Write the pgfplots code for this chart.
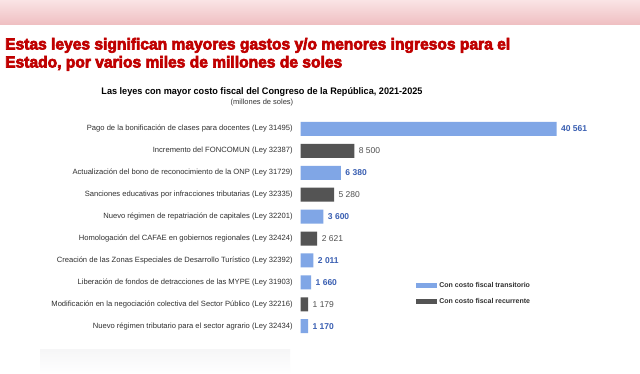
\documentclass[border=0pt]{standalone}
\usepackage{pgfplots}
\pgfplotsset{compat=1.18}
\usepackage{pgfplotstable}
\usepackage{graphicx}
\usepackage{fontspec}
\setmainfont{Liberation Sans}
\newfontfamily\heavyfont[FakeBold=4]{Liberation Sans Bold}
\definecolor{titlered}{HTML}{C00000}
\definecolor{barblue}{HTML}{80A6E6}
\definecolor{bargray}{HTML}{545454}
\definecolor{valblue}{HTML}{3A5FB2}
\definecolor{valgray}{HTML}{505050}
\definecolor{labgray}{HTML}{303030}

\pgfplotstableread{
idx val
0 40561
2 6380
4 3600
6 2011
7 1660
9 1170
}\transitorio
\pgfplotstableread{
idx val
1 8500
3 5280
5 2621
8 1179
}\recurrente

\begin{document}
\begin{tikzpicture}
\useasboundingbox (0pt,0pt) rectangle (640pt,374pt);
\fill[white] (0pt,0pt) rectangle (640pt,374pt);
\shade[top color={rgb,255:red,250;green,228;blue,229}, bottom color={rgb,255:red,239;green,190;blue,193}] (0pt,374pt) rectangle (640pt,349pt);
\shade[bottom color=white, top color={rgb,255:red,246;green,246;blue,247}] (40pt,0pt) rectangle (290pt,24pt);

\node[anchor=base west, inner sep=0, text=titlered] at (5pt,324.5pt)
  {\resizebox{505pt}{\height}{\heavyfont\fontsize{16}{18}\selectfont Estas leyes significan mayores gastos y/o menores ingresos para el}};
\node[anchor=base west, inner sep=0, text=titlered] at (5pt,306.5pt)
  {\resizebox{337pt}{\height}{\heavyfont\fontsize{16}{18}\selectfont Estado, por varios miles de millones de soles}};

\node[anchor=base, inner sep=0, text=black] at (262pt,279.5pt)
  {\resizebox{321pt}{\height}{\bfseries\fontsize{9.5}{11}\selectfont Las leyes con mayor costo fiscal del Congreso de la República, 2021-2025}};
\node[anchor=base, inner sep=0, text=black!80] at (262pt,269pt)
  {\fontsize{7.5}{9}\selectfont (millones de soles)};

\begin{axis}[
  at={(300.7pt,256pt)}, anchor=north west,
  scale only axis, width=315.5pt, height=219.2pt,
  xmin=0, xmax=50000, ymin=-0.5, ymax=9.5, y dir=reverse,
  enlargelimits=false, clip=false,
  xbar, bar width=14pt, bar shift=0pt,
  axis line style={draw=none},
  xtick=\empty,
  ytick={0,...,9},
  major tick length=0pt,
  yticklabels={
    {Pago de la bonificación de clases para docentes (Ley 31495)},
    {Incremento del FONCOMUN (Ley 32387)},
    {Actualización del bono de reconocimiento de la ONP (Ley 31729)},
    {Sanciones educativas por infracciones tributarias (Ley 32335)},
    {Nuevo régimen de repatriación de capitales (Ley 32201)},
    {Homologación del CAFAE en gobiernos regionales (Ley 32424)},
    {Creación de las Zonas Especiales de Desarrollo Turístico (Ley 32392)},
    {Liberación de fondos de detracciones de las MYPE (Ley 31903)},
    {Modificación en la negociación colectiva del Sector Público (Ley 32216)},
    {Nuevo régimen tributario para el sector agrario (Ley 32434)}},
  yticklabel style={font=\fontsize{7.6}{9}\selectfont, text=labgray, xshift=-4.5pt},
  point meta=x,
  nodes near coords,
  /pgf/number format/.cd, fixed, precision=0, 1000 sep={\ }, assume math mode=true,
  /pgfplots/.cd,
  every node near coord/.append style={anchor=west, xshift=1pt, font=\fontsize{8.5}{10}\selectfont},
  legend style={at={(axis cs:18225,6.88)}, anchor=north west, draw=none, fill=none,
    inner sep=0pt, row sep=4pt, font=\bfseries\fontsize{7}{8.5}\selectfont, text=labgray,
    legend cell align=left, nodes={inner sep=2.5pt}},
  legend image code/.code={\fill[#1] (0pt,-2.5pt) rectangle (21pt,2.5pt);},
]
\addplot[fill=barblue, draw=none, nodes near coords style={text=valblue, font=\bfseries\fontsize{8.5}{10}\selectfont}] table[x=val, y=idx] {\transitorio};
\addlegendentry{Con costo fiscal transitorio}
\addplot[fill=bargray, draw=none, nodes near coords style={text=valgray}] table[x=val, y=idx] {\recurrente};
\addlegendentry{Con costo fiscal recurrente}
\end{axis}
\end{tikzpicture}
\end{document}
